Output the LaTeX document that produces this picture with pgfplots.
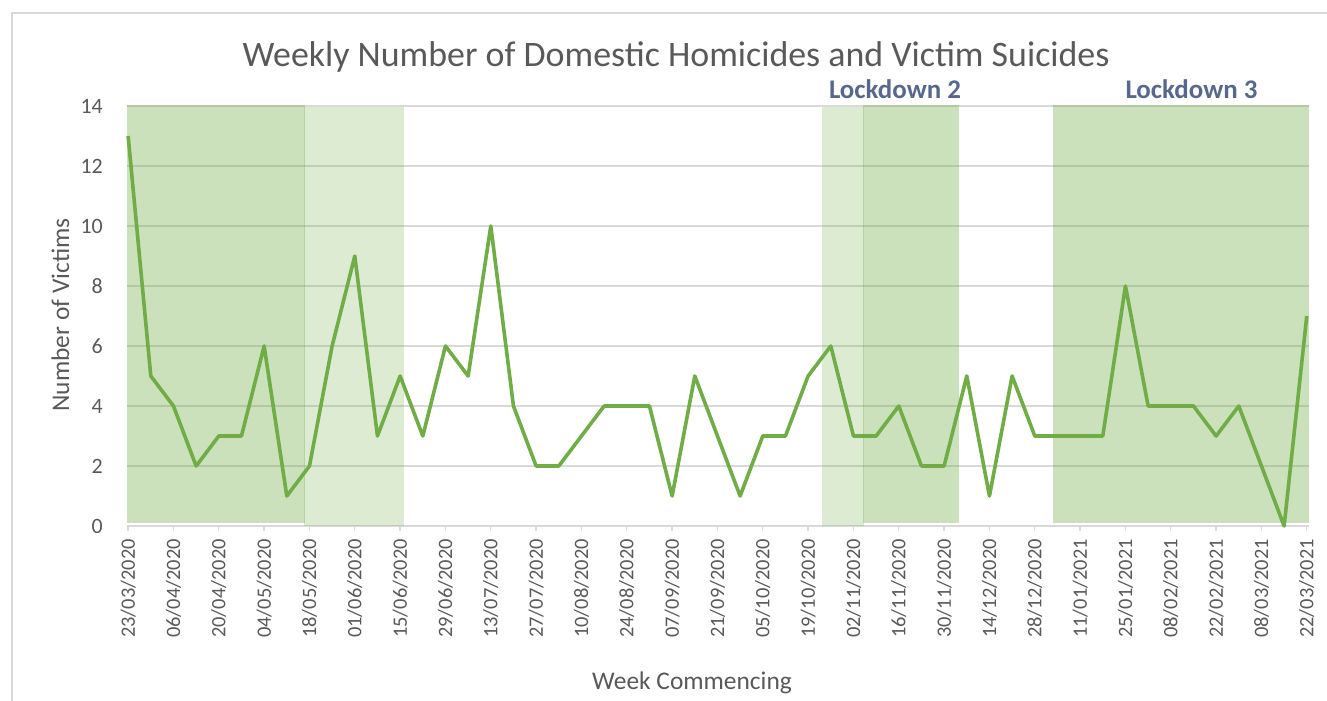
\documentclass[border=0pt]{standalone}
\usepackage{fontspec}
\setmainfont{Carlito}
\usepackage{pgfplots}
\pgfplotsset{compat=1.18}
\definecolor{exgreen}{HTML}{70AD47}
\definecolor{txtgray}{HTML}{595959}
\definecolor{gridgray}{HTML}{D9D9D9}
\definecolor{ldblue}{HTML}{56698C}
\pgfplotstableread{
w v
0 13
1 5
2 4
3 2
4 3
5 3
6 6
7 1
8 2
9 6
10 9
11 3
12 5
13 3
14 6
15 5
16 10
17 4
18 2
19 2
20 3
21 4
22 4
23 4
24 1
25 5
26 3
27 1
28 3
29 3
30 5
31 6
32 3
33 3
34 4
35 2
36 2
37 5
38 1
39 5
40 3
41 3
42 3
43 3
44 8
45 4
46 4
47 4
48 3
49 4
50 2
51 0
52 7
}\victims
\begin{document}
\begin{tikzpicture}[x=1bp,y=1bp]
\useasboundingbox (0,0) rectangle (1327,-700);
\draw[gridgray, line width=1.5bp] (12,-13) rectangle (1345,-720);
\begin{axis}[
  at={(127bp,-526bp)}, anchor=south west,
  scale only axis, width=1182bp, height=420bp,
  xmin=-0.05, xmax=52.1, ymin=0, ymax=14,
  clip=false,
  axis x line*=bottom, axis y line*=left,
  y axis line style={draw=none},
  x axis line style={gridgray, line width=1.5bp},
  xtick={0,2,...,52},
  xticklabels={23/03/2020,06/04/2020,20/04/2020,04/05/2020,18/05/2020,01/06/2020,15/06/2020,29/06/2020,13/07/2020,27/07/2020,10/08/2020,24/08/2020,07/09/2020,21/09/2020,05/10/2020,19/10/2020,02/11/2020,16/11/2020,30/11/2020,14/12/2020,28/12/2020,11/01/2021,25/01/2021,08/02/2021,22/02/2021,08/03/2021,22/03/2021},
  ytick={0,2,...,14},
  ymajorgrids,
  grid style={gridgray, line width=1.3bp},
  tick align=outside,
  major tick length=5bp,
  xtick style={gridgray, line width=1.3bp},
  ytick style={draw=none},
  /pgf/number format/assume math mode=true,
  xticklabel style={font=\fontsize{20.5}{24}\selectfont, text=txtgray, rotate=90, anchor=east, inner sep=0pt, xshift=-8bp},
  yticklabel style={font=\fontsize{22}{26}\selectfont, text=txtgray, anchor=east, inner sep=0pt, xshift=-19bp},
]
\addplot[draw=none, fill=exgreen, fill opacity=0.24] coordinates {(7.74,0) (7.74,13.98) (12.17,13.98) (12.17,0)} -- cycle;
\addplot[draw=none, fill=exgreen, fill opacity=0.37] coordinates {(-0.06,0.1) (-0.06,14.05) (7.8,14.05) (7.8,0.1)} -- cycle;
\addplot[draw=none, fill=exgreen, fill opacity=0.24] coordinates {(30.6,0) (30.6,13.98) (32.45,13.98) (32.45,0)} -- cycle;
\addplot[draw=none, fill=exgreen, fill opacity=0.37] coordinates {(32.4,0.1) (32.4,14.05) (36.65,14.05) (36.65,0.1)} -- cycle;
\addplot[draw=none, fill=exgreen, fill opacity=0.37] coordinates {(40.8,0.1) (40.8,14.05) (52.1,14.05) (52.1,0.1)} -- cycle;
\addplot[exgreen, line width=3.6bp, line join=round] table[x=w, y=v] {\victims};
\end{axis}
\node[anchor=base, font=\fontsize{36}{42}\selectfont, text=txtgray] at (676,-67) {Weekly Number of Domestic Homicides and Victim Suicides};
\node[anchor=base, font=\bfseries\fontsize{27}{32}\selectfont, text=ldblue] at (895,-99) {Lockdown 2};
\node[anchor=base, font=\bfseries\fontsize{27}{32}\selectfont, text=ldblue] at (1191.5,-99) {Lockdown 3};
\node[anchor=base, font=\fontsize{25.5}{30}\selectfont, text=txtgray] at (692,-689) {Week Commencing};
\node[anchor=base, rotate=90, font=\fontsize{25.5}{30}\selectfont, text=txtgray] at (69,-315) {Number of Victims};
\end{tikzpicture}
\end{document}
